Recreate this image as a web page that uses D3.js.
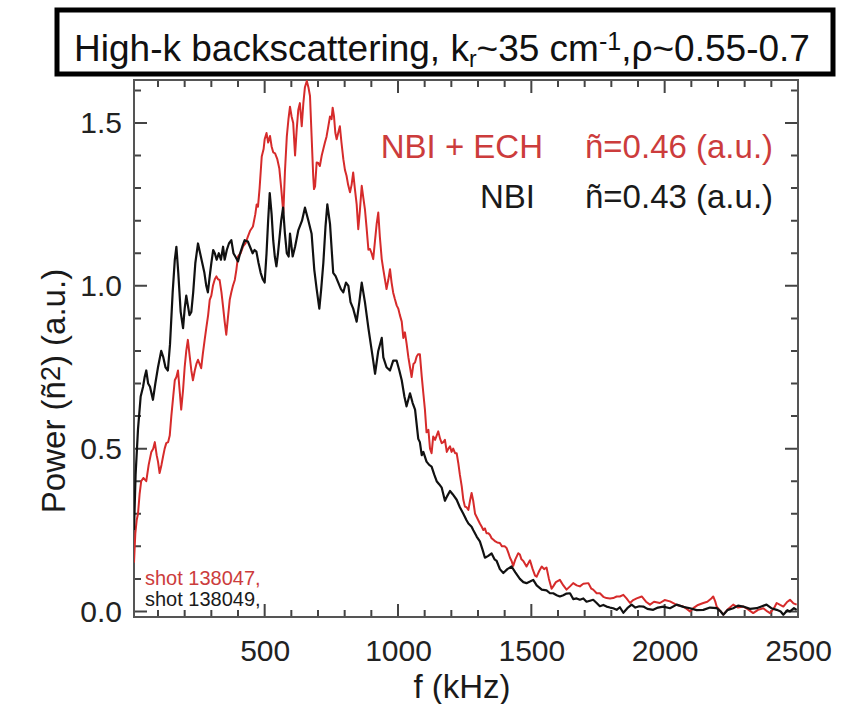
<!DOCTYPE html>
<html>
<head>
<meta charset="utf-8">
<script src="https://cdn.jsdelivr.net/npm/d3@7"></script>
<style>
	body {
		margin: 0;
		background: #fff;
		font-family: "Liberation Sans", Arial, Helvetica, sans-serif;
	}
	.tick text {
		font-family: "Liberation Sans", Arial, Helvetica, sans-serif;
		fill: #222;
	}
</style>
</head>
<body>
<script>

// spectra (f in kHz, power in a.u.)
var fBlack = [10,16,25,35,44,50,56,63,70,81,90,100,112,120,128,137,145,155,163,169,176,185,194,200,206,212,218,225,232,240,250,258,266,274,281,287,294,300,307,313,320,328,336,344,350,358,366,375,383,390,400,408,416,425,437,445,455,462,469,477,485,493,500,507,513,519,526,532,538,544,550,556,562,569,576,583,590,
	595,605,614,626,640,651,664,676,686,695,705,712,720,728,735,745,757,766,776,786,795,805,814,822,832,845,855,864,876,889,898,907,914,926,939,945,957,970,982,995,1005,1014,1024,1032,1045,1055,1064,1076,1082,1089,1095,1107,1117,1126,1136,1145,1155,1164,1176,1185,1195,1205,1220,1232,1245,1257,1264,1276,1282,1295,1307,1317,1326,1337,1351,1362,1370,1382,1395,1410,1426,1440,1457,1470,1482,1495,1507,1520,1539,1557,1570,1582,1595,1607,1620,1632,1645,1657,1670,1682,1695,1707,1720,1732,1745,1757,1770,1782,1795,1807,1820,1832,1845,1860,1876,1890,1905,1920,1935,1957,1975,1995,2020,2045,2070,2095,2120,2145,2170,2195,2210,2220,2235,2257,2275,2295,2320,2345,2365,2382,2400,2420,2435,2445,2460,2470,2485,2495];
var pBlack = [0.25,0.42,0.56,0.66,0.69,0.72,0.74,0.70,0.69,0.65,0.70,0.75,0.80,0.78,0.75,0.74,0.82,0.98,1.08,1.12,1.04,0.92,0.87,0.93,0.97,0.94,0.91,0.92,0.98,1.07,1.13,1.10,1.07,1.04,1.00,0.98,1.03,1.07,1.11,1.10,1.08,1.10,1.08,1.12,1.08,1.11,1.13,1.14,1.10,1.09,1.075,1.10,1.12,1.14,1.136,1.12,1.10,1.11,1.105,1.07,1.04,1.02,1.01,1.10,1.20,1.285,1.22,1.14,1.09,1.06,1.10,1.15,1.20,1.24,1.16,1.10,1.09,
	1.16,1.09,1.12,1.17,1.20,1.24,1.20,1.16,1.05,0.99,0.93,0.99,1.07,1.18,1.25,1.19,1.04,1.03,1.01,0.99,0.98,1.01,1.00,0.95,0.93,0.89,0.95,1.01,0.95,0.87,0.82,0.77,0.73,0.80,0.84,0.78,0.75,0.74,0.77,0.77,0.74,0.71,0.66,0.63,0.67,0.64,0.62,0.53,0.52,0.48,0.49,0.46,0.45,0.445,0.42,0.40,0.39,0.38,0.34,0.355,0.37,0.36,0.343,0.32,0.30,0.28,0.27,0.26,0.25,0.23,0.215,0.19,0.165,0.17,0.178,0.16,0.155,0.13,0.118,0.13,0.138,0.12,0.10,0.09,0.087,0.092,0.097,0.08,0.067,0.065,0.056,0.056,0.05,0.046,0.05,0.055,0.056,0.038,0.04,0.036,0.04,0.03,0.033,0.036,0.026,0.016,0.02,0.015,0.012,0.01,0.005,0.013,-0.004,0.01,0.021,0.012,0.016,0.015,0.008,0.005,0.012,0.015,0.01,0.021,0.014,0.01,0.004,0.005,0.012,0.01,0.0,-0.01,0.004,0.01,0.018,0.015,0.008,0.01,0.016,0.021,0.01,0.005,0.0,-0.01,0.004,0.0,0.01,0.005];

var fRed = [10,15,20,25,31,37,45,56,65,75,82,88,95,100,106,113,119,125,131,138,144,150,157,163,169,175,181,187,194,200,206,212,218,225,231,238,244,250,256,262,268,275,281,288,294,300,306,313,319,325,331,338,344,350,356,362,369,375,381,388,394,400,410,419,428,437,446,456,465,470,475,481,489,496,500,507,513,520,526,532,539,547,555,562,570,576,583,589,595,601,607,614,620,626,632,639,645,651,658,664,670,676,682,685,689,695,701,707,714,720,726,732,739,745,751,755,760,765,770,776,782,788,795,801,807,813,820,826,832,838,845,851,857,864,870,876,882,889,895,901,907,914,920,926,932,939,945,951,957,964,970,976,982,988,995,1001,1007,1014,1020,1026,1032,1039,1045,1051,1058,1064,1070,1076,1082,1089,1095,1101,1107,1114,1120,1126,1132,1139,1145,1151,1158,1164,1170,1176,1183,1189,1195,1201,1207,1214,1220,1226,1232,1239,1245,1251,1257,1264,1270,1276,1282,1289,1295,1301,1307,1314,1320,1326,1332,1339,1345,1351,1358,1365,1372,1382,1390,1400,1407,1414,1420,1426,1432,1440,1451,1457,1463,1470,1482,1490,1495,1505,1514,1520,1530,1539,1548,1557,1566,1576,1582,1592,1607,1620,1632,1645,1657,1670,1682,1695,1714,1725,1732,1745,1757,1770,1782,1795,1807,1820,1832,1845,1857,1870,1882,1895,1914,1930,1945,1960,1982,2000,2020,2045,2070,2083,2095,2110,2125,2145,2160,2175,2182,2190,2195,2210,2220,2235,2257,2275,2295,2310,2332,2350,2370,2385,2395,2410,2420,2433,2445,2458,2470,2483,2495];
var pRed = [0.15,0.24,0.28,0.30,0.36,0.40,0.41,0.40,0.45,0.49,0.50,0.52,0.48,0.46,0.425,0.45,0.476,0.50,0.517,0.52,0.54,0.60,0.66,0.71,0.72,0.74,0.68,0.62,0.68,0.75,0.80,0.834,0.79,0.74,0.71,0.74,0.76,0.773,0.76,0.747,0.79,0.834,0.87,0.91,0.957,0.97,1.00,1.02,1.029,1.02,1.018,0.98,0.936,0.89,0.85,0.90,0.957,0.98,1.00,1.018,1.05,1.09,1.10,1.121,1.13,1.151,1.17,1.182,1.22,1.25,1.243,1.30,1.397,1.42,1.45,1.469,1.44,1.46,1.428,1.41,1.407,1.39,1.36,1.30,1.223,1.35,1.458,1.51,1.55,1.52,1.50,1.40,1.479,1.54,1.561,1.49,1.56,1.61,1.629,1.61,1.583,1.46,1.338,1.297,1.305,1.379,1.377,1.368,1.40,1.42,1.44,1.458,1.491,1.52,1.512,1.547,1.52,1.47,1.45,1.47,1.49,1.44,1.389,1.356,1.338,1.31,1.287,1.31,1.348,1.30,1.25,1.174,1.23,1.307,1.27,1.235,1.18,1.111,1.113,1.10,1.082,1.14,1.19,1.225,1.15,1.082,1.05,1.02,0.99,1.02,1.051,1.01,0.979,0.96,0.94,0.93,0.91,0.89,0.84,0.857,0.824,0.78,0.75,0.72,0.76,0.765,0.783,0.79,0.79,0.722,0.67,0.62,0.55,0.558,0.50,0.486,0.537,0.527,0.54,0.553,0.53,0.517,0.52,0.527,0.49,0.50,0.507,0.49,0.50,0.486,0.486,0.456,0.42,0.384,0.343,0.322,0.32,0.312,0.34,0.364,0.34,0.30,0.29,0.28,0.27,0.26,0.25,0.255,0.24,0.24,0.235,0.225,0.22,0.215,0.212,0.21,0.20,0.20,0.195,0.18,0.165,0.155,0.14,0.16,0.179,0.175,0.16,0.155,0.138,0.15,0.157,0.13,0.11,0.107,0.125,0.138,0.13,0.135,0.10,0.07,0.077,0.09,0.097,0.08,0.067,0.077,0.087,0.08,0.077,0.085,0.087,0.07,0.067,0.056,0.056,0.045,0.041,0.04,0.041,0.046,0.046,0.051,0.04,0.026,0.035,0.04,0.046,0.03,0.021,0.03,0.026,0.035,0.031,0.02,0.015,0.008,0.0,0.012,0.02,0.026,0.03,0.04,0.046,0.03,0.015,0.0,-0.01,0.005,0.021,0.012,0.015,0.008,-0.005,0.005,0.01,0.0,-0.005,0.01,0.026,0.02,0.015,0.028,0.036,0.025,0.021];

var xMajor = [500, 1000, 1500, 2000, 2500];
var xMinor = [100,200,300,400,600,700,800,900,1100,1200,1300,1400,1600,1700,1800,1900,2100,2200,2300,2400];
var yMajor = [0, 0.5, 1.0, 1.5];
var yMinor = [0.1, 0.2, 0.3, 0.4, 0.6, 0.7, 0.8, 0.9, 1.1, 1.2, 1.3, 1.4, 1.6];

var W = 845, H = 704;
var plot = {left: 134, right: 798, top: 80, bottom: 617};
var red = "#d62b2b", redText = "#cc3c3c";
var majorLen = 13, minorLen = 7;

var svg = d3.select("body").append("svg")
	.attr("width", W).attr("height", H);

var x = d3.scaleLinear().domain([10, 2500]).range([plot.left, plot.right]);
var y = d3.scaleLinear().domain([-0.017, 1.632]).range([plot.bottom, plot.top]);

// title box
svg.append("rect")
	.attr("x", 57).attr("y", 10).attr("width", 776).attr("height", 64)
	.attr("fill", "none").attr("stroke", "#000").attr("stroke-width", 5);

var title = svg.append("text")
	.attr("x", 442).attr("y", 61)
	.attr("text-anchor", "middle")
	.style("font-size", "37px").attr("fill", "#111");
title.append("tspan").text("High-k backscattering, k");
title.append("tspan").attr("baseline-shift", "-25%").style("font-size", "23px").text("r");
title.append("tspan").text("~35 cm");
title.append("tspan").attr("baseline-shift", "45%").style("font-size", "25px").text("-1");
title.append("tspan").text(",ρ~0.55-0.7");

// tick labels from d3 axes
svg.append("g").attr("transform", "translate(0," + plot.bottom + ")")
	.call(d3.axisBottom(x).tickValues(xMajor).tickSize(0).tickPadding(23).tickFormat(d3.format("d")));
svg.append("g").attr("transform", "translate(" + plot.left + ",0)")
	.call(d3.axisLeft(y).tickValues(yMajor).tickSize(0).tickPadding(12).tickFormat(d3.format(".1f")));
svg.selectAll(".domain").remove();
svg.selectAll(".tick line").remove();
svg.selectAll(".tick text").style("font-size", "30px");

// inward ticks on all four sides (IDL style)
function tickPathX(vals, len) {
	var p = d3.path();
	vals.forEach(function(v) {
		var px = x(v);
		p.moveTo(px, plot.bottom); p.lineTo(px, plot.bottom - len);
		p.moveTo(px, plot.top); p.lineTo(px, plot.top + len);
	});
	return p.toString();
}
function tickPathY(vals, len) {
	var p = d3.path();
	vals.forEach(function(v) {
		var py = y(v);
		p.moveTo(plot.left, py); p.lineTo(plot.left + len, py);
		p.moveTo(plot.right, py); p.lineTo(plot.right - len, py);
	});
	return p.toString();
}
[tickPathX(xMinor, minorLen), tickPathX(xMajor, majorLen),
 tickPathY(yMinor, minorLen), tickPathY(yMajor, majorLen)].forEach(function(d) {
	svg.append("path")
		.attr("d", d)
		.style("fill", "none")
		.style("stroke", "#444")
		.style("stroke-width", "2px");
});

// frame
svg.append("rect")
	.attr("x", plot.left).attr("y", plot.top)
	.attr("width", plot.right - plot.left).attr("height", plot.bottom - plot.top)
	.attr("fill", "none").attr("stroke", "#555").attr("stroke-width", 2);

// curves
svg.append("clipPath").attr("id", "clip")
	.append("rect")
	.attr("x", plot.left).attr("y", plot.top)
	.attr("width", plot.right - plot.left).attr("height", plot.bottom - plot.top);

var line = d3.line()
	.x(function(d) { return x(d[0]); })
	.y(function(d) { return y(d[1]); });

svg.append("path")
	.datum(d3.zip(fRed, pRed))
	.attr("clip-path", "url(#clip)")
	.attr("d", line)
	.attr("fill", "none").attr("stroke", red).attr("stroke-width", 2)
	.attr("stroke-linejoin", "round");

svg.append("path")
	.datum(d3.zip(fBlack, pBlack))
	.attr("clip-path", "url(#clip)")
	.attr("d", line)
	.attr("fill", "none").attr("stroke", "#111").attr("stroke-width", 2.2)
	.attr("stroke-linejoin", "round");

// legend
var legend = [
	{name: "NBI + ECH", val: "ñ=0.46 (a.u.)", color: redText, y: 158, right: 543},
	{name: "NBI", val: "ñ=0.43 (a.u.)", color: "#1a1a1a", y: 208, right: 535}
];
legend.forEach(function(d) {
	svg.append("text")
		.attr("x", d.right).attr("y", d.y)
		.attr("text-anchor", "end")
		.style("font-size", "33px").attr("fill", d.color)
		.text(d.name);
	svg.append("text")
		.attr("x", 585).attr("y", d.y)
		.style("font-size", "33px").attr("fill", d.color)
		.text(d.val);
});

// shot numbers
svg.append("text").attr("x", 145).attr("y", 585)
	.style("font-size", "20px").attr("fill", redText).text("shot 138047,");
svg.append("text").attr("x", 145).attr("y", 606)
	.style("font-size", "20px").attr("fill", "#1a1a1a").text("shot 138049,");

// axis titles
svg.append("text")
	.attr("x", (plot.left + plot.right) / 2 - 4).attr("y", 698)
	.attr("text-anchor", "middle")
	.style("font-size", "33px").attr("fill", "#1a1a1a")
	.text("f (kHz)");

var ytitle = svg.append("text")
	.attr("transform", "translate(65,391) rotate(-90)")
	.attr("text-anchor", "middle")
	.style("font-size", "33px").attr("fill", "#1a1a1a");
ytitle.append("tspan").text("Power (ñ");
ytitle.append("tspan").attr("baseline-shift", "18%").style("font-size", "27px").text("2");
ytitle.append("tspan").text(") (a.u.)");

</script>
</body>
</html>
